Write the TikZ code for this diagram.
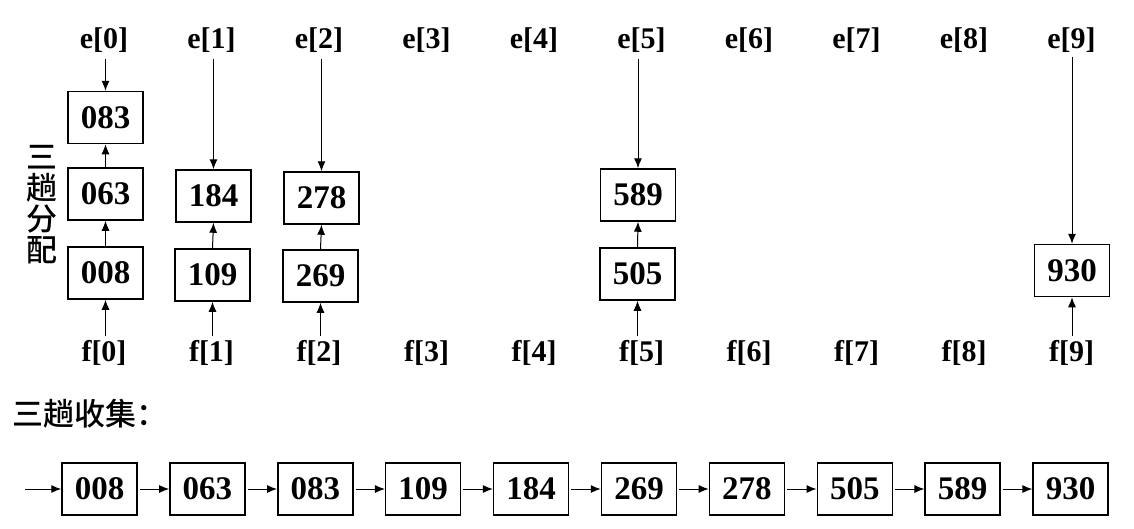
\documentclass[tikz,border=0pt]{standalone}
\usepackage{fontspec}
\setmainfont{Liberation Serif}
\newfontfamily\cjk{Noto Sans CJK SC}[UprightFont=* Medium]
\usetikzlibrary{arrows.meta}
\begin{document}
\begin{tikzpicture}[x=1pt,y=-1pt,
  box/.style={draw,line width=1.5pt,minimum width=75pt,minimum height=52pt,inner sep=0pt,
    font=\fontsize{33}{33}\selectfont\bfseries},
  lab/.style={inner sep=0pt,font=\fontsize{30}{30}\selectfont\bfseries},
  cjklab/.style={inner sep=0pt,font=\fontsize{31}{31}\selectfont\cjk},
  arr/.style={-{Latex[length=10pt,width=8pt]},line width=1pt}]
\useasboundingbox (0,0) rectangle (1134,528);
% column labels
\foreach \i in {0,...,9}{
  \node[lab] (e\i) at ({104+107.5*\i},40) {e[\i]};
  \node[lab] (f\i) at ({104+107.5*\i},353) {f[\i]};
}
% distribution boxes
\node[box] (b083) at (105.5,117.5) {083};
\node[box] (b063) at (105.5,194) {063};
\node[box] (b008) at (105.5,273) {008};
\node[box] (b184) at (213.5,196) {184};
\node[box] (b109) at (212.5,275) {109};
\node[box] (b278) at (321.5,198) {278};
\node[box] (b269) at (320.5,276) {269};
\node[box] (b589) at (638,195) {589};
\node[box] (b505) at (637.5,274) {505};
\node[box] (b930) at (1072,270.5) {930};
% e arrows
\draw[arr] ([yshift=-6pt]b083.north |- e0.south) -- (b083.north);
\draw[arr] ([yshift=-6pt]b184.north |- e1.south) -- (b184.north);
\draw[arr] ([yshift=-6pt]b278.north |- e2.south) -- (b278.north);
\draw[arr] ([yshift=-6pt]b589.north |- e5.south) -- (b589.north);
\draw[arr] ([yshift=-4pt]b930.north |- e9.south) -- (b930.north);
% chain arrows
\draw[arr] (b063.north) -- (b083.south);
\draw[arr] (b008.north) -- (b063.south);
\draw[arr] (b109.north) -- (b184.south);
\draw[arr] (b269.north) -- (b278.south);
\draw[arr] (b505.north) -- (b589.south);
% f arrows
\draw[arr] ([yshift=4pt]b008.south |- f0.north) -- (b008.south);
\draw[arr] ([yshift=4pt]b109.south |- f1.north) -- (b109.south);
\draw[arr] ([yshift=4pt]b269.south |- f2.north) -- (b269.south);
\draw[arr] ([yshift=4pt]b505.south |- f5.north) -- (b505.south);
\draw[arr] ([yshift=4pt]b930.south |- f9.north) -- (b930.south);
% chinese labels
\node[cjklab,align=center] (fenpei) at (42,205) {三\\趟\\分\\配};
\node[cjklab,anchor=west] (shouji) at (12,414) {三趟收集：};
% collection row
\coordinate (start) at (25,489);
\foreach \v [count=\k from 0] in {008,063,083,109,184,269,278,505,589,930}{
  \node[box] (c\k) at ({99.5+107.9*\k},489) {\v};
}
\draw[arr] (start) -- (c0.west);
\foreach \k [evaluate=\k as \n using int(\k+1)] in {0,...,8}{
  \draw[arr,shorten <=2pt] (c\k.east) -- (c\n.west);
}
\end{tikzpicture}
\end{document}
